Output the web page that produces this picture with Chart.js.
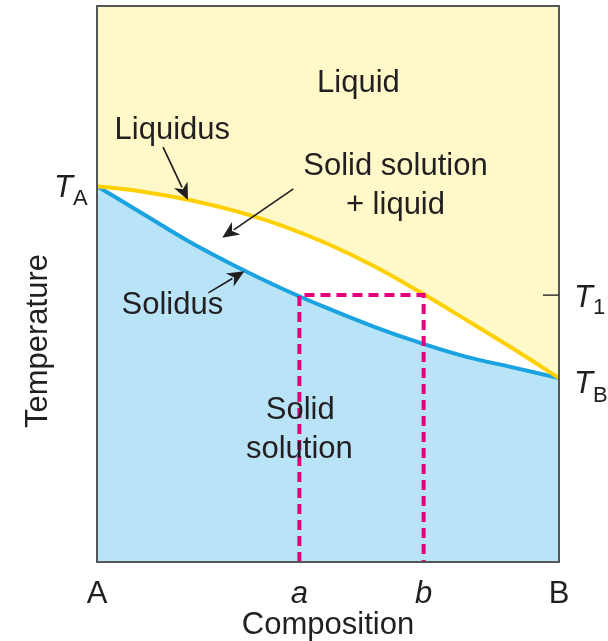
<!DOCTYPE html>
<html>
<head>
<meta charset="utf-8">
<script src="https://cdn.jsdelivr.net/npm/chart.js@4.4.1/dist/chart.umd.min.js"></script>
<style>
  html, body { margin: 0; padding: 0; background: #fff; }
  canvas { display: block; }
</style>
</head>
<body>
<canvas id="chart-phase" width="608" height="641"></canvas>
<script>
// Composizione: A = 0, B = 1
const composition = [0, 0.1, 0.2, 0.3, 0.4, 0.5, 0.6, 0.7, 0.8, 0.9, 1];
// Temperatura (scala arbitraria 0-100)
const liquidus = [67.6, 66.6, 65.1, 63.1, 60.5, 57.2, 53.2, 48.5, 43.5, 38.4, 33.1];
const solidus  = [67.6, 62.6, 57.6, 53.2, 49.2, 45.6, 42.3, 39.4, 36.9, 35.0, 33.1];

const compA = 0.438;
const compB = 0.707;
const tempT1 = 48.0;
const tempTA = 67.6;
const tempTB = 33.1;

const tieLineX = [compA, compA, compB, compB];
const tieLineY = [0, tempT1, tempT1, 0];

const xTickValues = [0, compA, compB, 1];
const xTickLabels = ['A', 'a', 'b', 'B'];

const FONT = '"Liberation Sans", Arial, Helvetica, sans-serif';
const INK = '#231f20';

// etichette delle regioni (coordinate dati, linea di base)
const regionLabels = [
  { text: 'Liquid', x: 0.566, y: 84.5 },
  { text: 'Liquidus', x: 0.163, y: 76.1 },
  { text: 'Solid solution', x: 0.646, y: 69.6 },
  { text: '+ liquid', x: 0.646, y: 62.6 },
  { text: 'Solidus', x: 0.163, y: 44.6 },
  { text: 'Solid', x: 0.440, y: 25.7 },
  { text: 'solution', x: 0.438, y: 18.7 }
];

// frecce: da (x0,y0) alla punta (x1,y1)
const arrows = [
  { x0: 0.143, y0: 74.6, x1: 0.197, y1: 65.1 },
  { x0: 0.425, y0: 67.1, x1: 0.271, y1: 58.3 },
  { x0: 0.241, y0: 48.4, x1: 0.319, y1: 52.3 }
];

const toPoints = (xs, ys) => xs.map((x, i) => ({ x: x, y: ys[i] }));

function drawArrow(ctx, x0, y0, x1, y1) {
  const ang = Math.atan2(y1 - y0, x1 - x0);
  const headLen = 17, headW = 7.5;
  const bx = x1 - headLen * Math.cos(ang);
  const by = y1 - headLen * Math.sin(ang);
  ctx.strokeStyle = INK;
  ctx.lineWidth = 1.7;
  ctx.beginPath();
  ctx.moveTo(x0, y0);
  ctx.lineTo(bx + 3 * Math.cos(ang), by + 3 * Math.sin(ang));
  ctx.stroke();
  ctx.fillStyle = INK;
  ctx.beginPath();
  ctx.moveTo(x1, y1);
  ctx.lineTo(bx + headW * Math.sin(ang), by - headW * Math.cos(ang));
  ctx.lineTo(x1 - (headLen - 5) * Math.cos(ang), y1 - (headLen - 5) * Math.sin(ang));
  ctx.lineTo(bx - headW * Math.sin(ang), by + headW * Math.cos(ang));
  ctx.closePath();
  ctx.fill();
}

function drawSubLabel(ctx, main, sub, x, y, dyMain, dySub) {
  ctx.textAlign = 'left';
  ctx.textBaseline = 'alphabetic';
  ctx.fillStyle = INK;
  ctx.font = 'italic 31px ' + FONT;
  ctx.fillText(main, x, y + dyMain);
  const w = ctx.measureText(main).width;
  ctx.font = '22px ' + FONT;
  ctx.fillText(sub, x + w, y + dySub);
}

const decorPlugin = {
  id: 'decor',
  afterDatasetsDraw(chart) {
    const ctx = chart.ctx;
    const xs = chart.scales.x, ys = chart.scales.y;
    const area = chart.chartArea;
    ctx.save();

    // cornice
    ctx.strokeStyle = '#555555';
    ctx.lineWidth = 2;
    ctx.strokeRect(area.left, area.top, area.right - area.left, area.bottom - area.top);

    // tacca T1 sul lato destro
    const yT1 = ys.getPixelForValue(tempT1);
    ctx.strokeStyle = '#333333';
    ctx.lineWidth = 1.5;
    ctx.beginPath();
    ctx.moveTo(area.right - 16, yT1);
    ctx.lineTo(area.right, yT1);
    ctx.stroke();

    // testi
    ctx.fillStyle = INK;
    ctx.font = '31px ' + FONT;
    ctx.textAlign = 'center';
    ctx.textBaseline = 'alphabetic';
    regionLabels.forEach(l => {
      ctx.fillText(l.text, xs.getPixelForValue(l.x), ys.getPixelForValue(l.y));
    });

    arrows.forEach(a => drawArrow(ctx,
      xs.getPixelForValue(a.x0), ys.getPixelForValue(a.y0),
      xs.getPixelForValue(a.x1), ys.getPixelForValue(a.y1)));

    // etichette temperatura
    drawSubLabel(ctx, 'T', 'A', area.left - 43, ys.getPixelForValue(tempTA), 11, 19);
    drawSubLabel(ctx, 'T', '1', area.right + 15, yT1, 12, 19);
    drawSubLabel(ctx, 'T', 'B', area.right + 15, ys.getPixelForValue(tempTB), 15, 24);

    // titolo asse y
    ctx.save();
    ctx.translate(38, 341);
    ctx.rotate(-Math.PI / 2);
    ctx.font = '31px ' + FONT;
    ctx.textAlign = 'center';
    ctx.textBaseline = 'middle';
    ctx.fillStyle = INK;
    ctx.fillText('Temperature', 0, 0);
    ctx.restore();

    ctx.restore();
  }
};

new Chart(document.getElementById('chart-phase'), {
  type: 'line',
  data: {
    datasets: [
      {
        label: 'Tie line',
        data: toPoints(tieLineX, tieLineY),
        borderColor: '#e6007e',
        borderWidth: 4,
        borderDash: [10, 6],
        pointRadius: 0,
        fill: false,
        tension: 0,
        order: 1
      },
      {
        label: 'Liquidus',
        data: toPoints(composition, liquidus),
        borderColor: '#ffd000',
        backgroundColor: '#fff9c9',
        borderWidth: 4,
        pointRadius: 0,
        fill: 'end',
        tension: 0.4,
        order: 2
      },
      {
        label: 'Solidus',
        data: toPoints(composition, solidus),
        borderColor: '#1aa3e0',
        backgroundColor: '#b9e4f8',
        borderWidth: 4,
        pointRadius: 0,
        fill: 'start',
        tension: 0.4,
        order: 3
      }
    ]
  },
  options: {
    responsive: false,
    animation: false,
    layout: { padding: { top: 6, right: 49, left: 0, bottom: 0 } },
    plugins: {
      legend: { display: false },
      tooltip: { enabled: false }
    },
    scales: {
      x: {
        type: 'linear',
        min: 0,
        max: 1,
        grid: { display: false },
        border: { display: false },
        afterBuildTicks: (scale) => {
          scale.ticks = xTickValues.map(v => ({ value: v }));
        },
        afterFit: (scale) => { scale.height = 79; },
        ticks: {
          padding: 6,
          color: INK,
          maxRotation: 0,
          autoSkip: false,
          font: (c) => ({
            family: FONT,
            size: 31,
            style: (c.index === 1 || c.index === 2) ? 'italic' : 'normal'
          }),
          callback: (value, index) => xTickLabels[index]
        },
        title: {
          display: true,
          text: 'Composition',
          color: INK,
          font: { family: FONT, size: 31, lineHeight: 1 },
          padding: { top: 0, bottom: 0 }
        }
      },
      y: {
        type: 'linear',
        min: 0,
        max: 100,
        grid: { display: false },
        border: { display: false },
        ticks: { display: false },
        afterFit: (scale) => { scale.width = 97; }
      }
    }
  },
  plugins: [decorPlugin]
});
</script>
</body>
</html>
